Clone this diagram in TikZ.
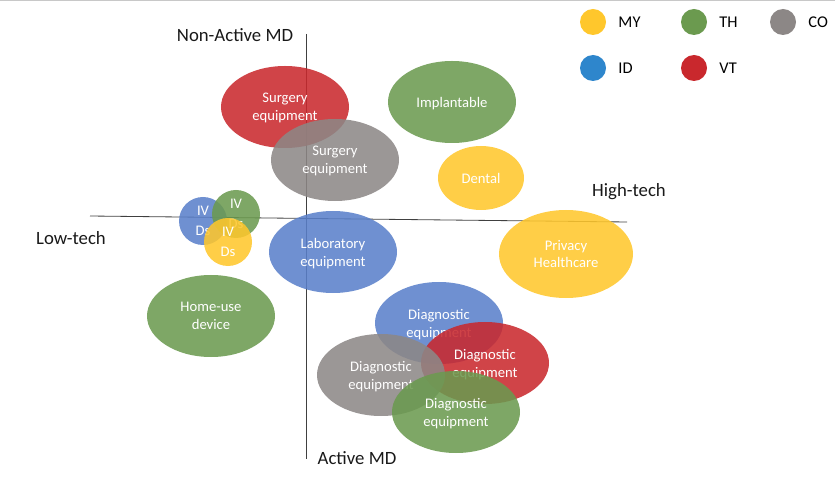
\documentclass[tikz,border=0pt]{standalone}
\usepackage{fontspec}
\setmainfont{Carlito}
\usepackage{tikz}
\usetikzlibrary{shapes.geometric,positioning}
\definecolor{myyellow}{HTML}{FFC72C}
\definecolor{thgreen}{HTML}{6B9A4F}
\definecolor{cogray}{HTML}{8C8786}
\definecolor{idblue}{HTML}{2E86CC}
\definecolor{vtred}{HTML}{C9282D}
\definecolor{ellblue}{HTML}{5A80CA}
\definecolor{axis}{HTML}{404040}
\definecolor{frame}{HTML}{C8C8C8}
\tikzset{
  blob/.style={ellipse, inner sep=0pt, fill opacity=0.87, text opacity=1, text=white,
    align=center, text depth=0pt, font=\fontsize{12.5}{15.3}\selectfont},
  bigell/.style={blob, minimum width=3.84cm, minimum height=2.46cm},
  ivdot/.style={blob, minimum width=1.44cm, minimum height=1.44cm, font=\fontsize{12.5}{17}\selectfont},
  dot/.style={circle, inner sep=0pt, minimum size=0.78cm},
  legtext/.style={inner sep=0pt, font=\fontsize{14}{16}\selectfont},
  axlab/.style={inner sep=0pt, font=\fontsize{16}{18}\selectfont, text=black!90},
  axline/.style={draw=axis, line width=0.7pt}
}

\begin{document}
\begin{tikzpicture}[x=0.03cm, y=-0.03cm]
  \useasboundingbox (0,0) rectangle (835,485);
  \draw[draw=frame, line width=1pt] (0,0.5) -- (835,0.5);

  % axes
  \coordinate (xl) at (90,216);
  \coordinate (xr) at (627,222);
  \coordinate (yt) at (306,34);
  \coordinate (yb) at (306,459);
  \draw[axline] (xl) -- (xr);
  \draw[axline] (yt) -- (yb);
  \node[axlab] (nonact) at (235,35) {Non-Active MD};
  \node[axlab] (act) at (357,458) {Active MD};
  \node[axlab] (lowt) at (71,238) {Low-tech};
  \node[axlab] (hight) at (629,192) {High-tech};

  % device groups
  \node[bigell, fill=vtred] (surgvt) at (285,107) {Surgery\\equipment};
  \node[bigell, fill=cogray] (surgco) at (335,160) {Surgery\\equipment};
  \node[bigell, fill=thgreen] (implth) at (452,102) {Implantable};
  \node[blob, fill=myyellow, minimum width=2.58cm, minimum height=1.92cm] (dentmy) at (481,178) {Dental};
  \node[blob, fill=myyellow, minimum width=4.02cm, minimum height=2.64cm] (privmy) at (566,254) {Privacy\\Healthcare};
  \node[bigell, fill=ellblue] (labid) at (333,252) {Laboratory\\equipment};
  \node[ivdot, fill=ellblue] (ivid) at (203,221) {IV\\Ds};
  \node[ivdot, fill=thgreen] (ivth) at (236,214) {IV\\Ds};
  \node[ivdot, fill=myyellow] (ivmy) at (228,242) {IV\\Ds};
  \node[bigell, fill=thgreen] (hometh) at (211,316) {Home-use\\device};
  \node[bigell, fill=ellblue] (diagid) at (439,323) {Diagnostic\\equipment};
  \node[bigell, fill=vtred] (diagvt) at (485,363) {Diagnostic\\equipment};
  \node[bigell, fill=cogray] (diagco) at (381,375) {Diagnostic\\equipment};
  \node[bigell, fill=thgreen] (diagth) at (456,412) {Diagnostic\\equipment};

  % legend
  \node[dot, fill=myyellow] (legmy) at (593,22) {};
  \node[dot, fill=thgreen] (legth) at (694,22) {};
  \node[dot, fill=cogray] (legco) at (783,22) {};
  \node[dot, fill=idblue] (legid) at (593,68) {};
  \node[dot, fill=vtred] (legvt) at (694,68) {};
  \node[legtext, right=0.36cm of legmy] (legmytxt) {MY};
  \node[legtext, right=0.36cm of legth] (legthtxt) {TH};
  \node[legtext, right=0.36cm of legco] (legcotxt) {CO};
  \node[legtext, right=0.36cm of legid] (legidtxt) {ID};
  \node[legtext, right=0.36cm of legvt] (legvttxt) {VT};
\end{tikzpicture}
\end{document}
